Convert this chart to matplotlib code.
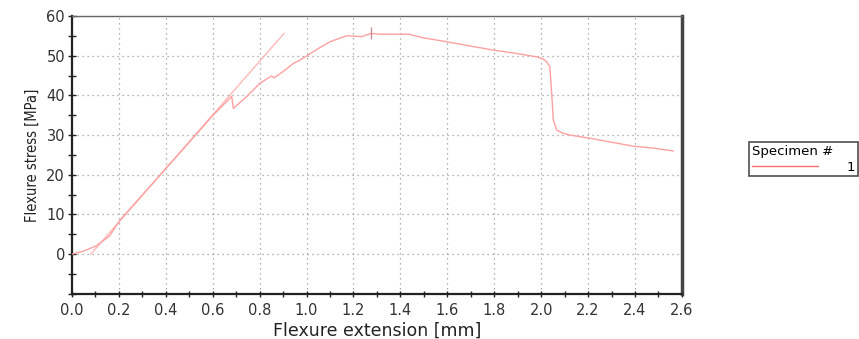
import matplotlib
matplotlib.use("Agg")
import matplotlib.pyplot as plt
from matplotlib.ticker import MultipleLocator, FixedLocator

# Measured curve (specimen 1)
ext_mm = [0.0, 0.05, 0.10, 0.12, 0.16, 0.205, 0.30, 0.39, 0.50, 0.60, 0.65, 0.681,
          0.688, 0.75, 0.80, 0.851, 0.861, 0.90, 0.943, 0.972, 1.00, 1.05, 1.10,
          1.171, 1.235, 1.275, 1.313, 1.434, 1.498, 1.597, 1.70, 1.796, 1.90, 1.981,
          2.005, 2.023, 2.037, 2.045, 2.052, 2.066, 2.09, 2.123, 2.208, 2.30, 2.393,
          2.48, 2.563]
stress_mpa = [0.0, 0.8, 2.0, 2.8, 4.6, 8.6, 14.9, 20.9, 28.2, 34.9, 37.9, 39.7,
              36.7, 40.0, 43.0, 44.9, 44.4, 46.0, 48.0, 48.9, 49.9, 51.8, 53.5,
              55.0, 54.8, 55.6, 55.4, 55.4, 54.5, 53.5, 52.4, 51.4, 50.5, 49.7,
              49.3, 48.5, 47.2, 40.5, 33.8, 31.3, 30.5, 30.0, 29.2, 28.2, 27.2,
              26.7, 26.0]

# Modulus (linear fit) line
fit_x = [0.08, 0.904]
fit_y = [0.0, 55.6]

# Break marker
mark_x = [1.275]
mark_y = [55.6]

x_ticks = [0.0, 0.2, 0.4, 0.6, 0.8, 1.0, 1.2, 1.4, 1.6, 1.8, 2.0, 2.2, 2.4, 2.6]
y_ticks = [0, 10, 20, 30, 40, 50, 60]
legend_title = "Specimen #"
legend_label = "1"

plt.rcParams['font.family'] = ['DejaVu Sans']

fig = plt.figure(figsize=(8.59, 3.39), dpi=100)
ax = fig.add_axes([0.0838, 0.133, 0.710, 0.820])

ax.plot(fit_x, fit_y, color='#ffb8b8', lw=1.0, zorder=3)
line, = ax.plot(ext_mm, stress_mpa, color='#ffa0a0', lw=1.0, zorder=4)
ax.plot(mark_x, mark_y, marker='|', markersize=8, color='#c89090',
        linestyle='none', zorder=5)

ax.set_xlim(0, 2.6)
ax.set_ylim(-10, 60)
ax.xaxis.set_major_locator(FixedLocator(x_ticks))
ax.set_xticklabels([f"{v:.1f}" for v in x_ticks])
ax.xaxis.set_minor_locator(MultipleLocator(0.1))
ax.yaxis.set_major_locator(FixedLocator(y_ticks))
ax.set_yticklabels([str(v) for v in y_ticks])
ax.yaxis.set_minor_locator(MultipleLocator(5))

ax.grid(True, which='major', linestyle=(0, (1, 3)), color='#999999', lw=0.9)
ax.set_axisbelow(True)

ax.tick_params(axis='both', which='both', direction='inout', length=6,
               width=1.0, color='#222222', labelsize=10.5, labelcolor='#333333')
ax.tick_params(axis='x', which='both', length=5, pad=4)
ax.tick_params(axis='y', which='both', pad=2)

for s in ['left', 'bottom']:
    ax.spines[s].set_color('#222222')
    ax.spines[s].set_linewidth(1.6)
ax.spines['top'].set_color('#666666')
ax.spines['top'].set_linewidth(1.0)
ax.spines['right'].set_color('#444444')
ax.spines['right'].set_linewidth(2.5)

ax.set_xlabel("Flexure extension [mm]", fontsize=12.5, color='#222222', labelpad=3)
ax.set_ylabel("Flexure stress [MPa]", fontsize=10.5, color='#222222', labelpad=5,
              fontstretch='condensed')

leg = fig.legend([line], [legend_label], title=legend_title,
                 loc='upper left', bbox_to_anchor=(0.872, 0.580),
                 frameon=True, fancybox=False, shadow=False,
                 edgecolor='#222222', fontsize=9.5, title_fontsize=9.5,
                 handlelength=5.0, handletextpad=2.2, borderpad=0.2,
                 borderaxespad=0, alignment='left', labelspacing=0.2)
leg.get_frame().set_linewidth(1.2)
for h in leg.legend_handles:
    h.set_color('#ff7070')

fig.savefig("out.png", dpi=100, facecolor='white')
